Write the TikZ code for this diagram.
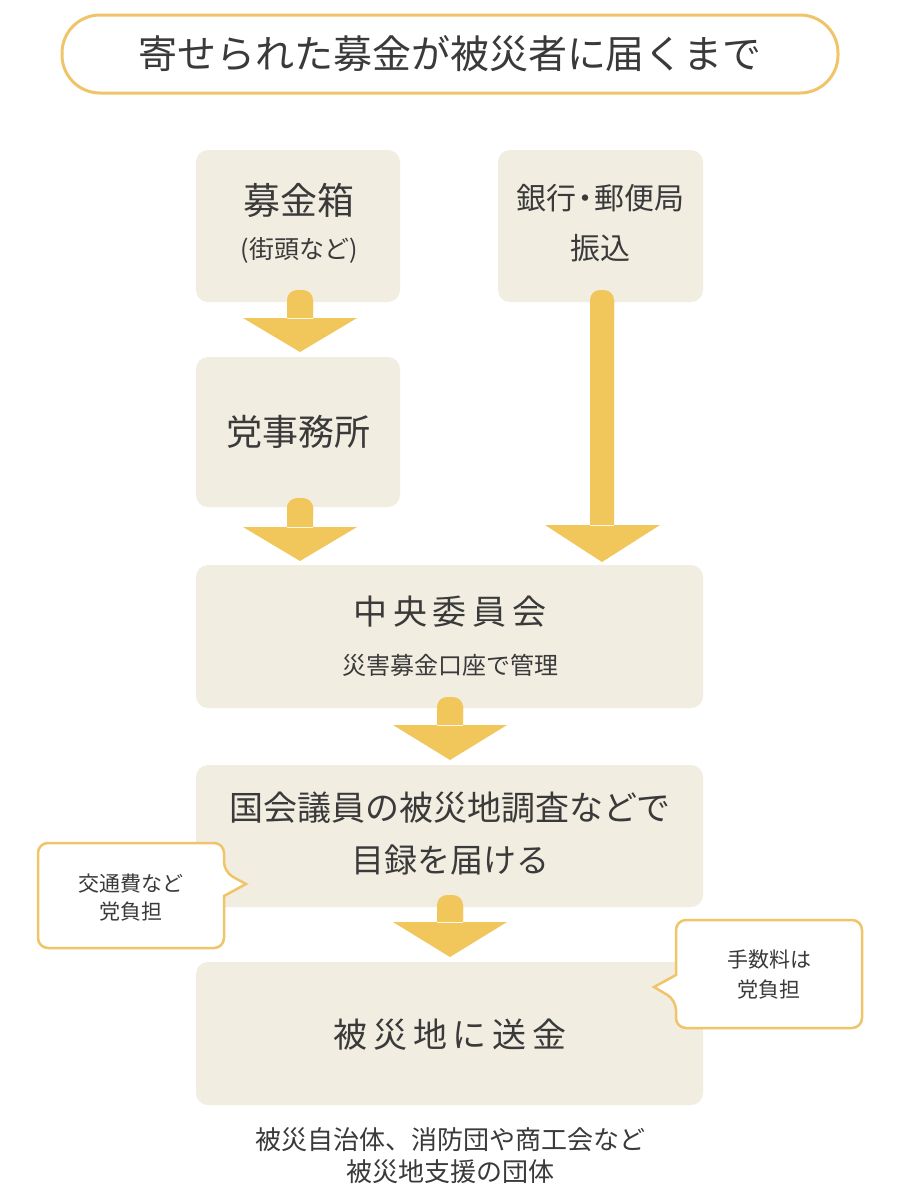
\documentclass[tikz,border=0pt]{standalone}
\usepackage{fontspec}
\setmainfont{Noto Sans CJK JP}
\begin{document}
\begin{tikzpicture}[x=1pt,y=-1pt,
  box/.style={fill=boxc,rounded corners=12pt},
  arr/.style={fill=arrc},
  t/.style={text=txt,inner sep=0pt,anchor=center}]
\definecolor{boxc}{HTML}{F2EDE1}
\definecolor{arrc}{HTML}{F1C75C}
\definecolor{orng}{HTML}{F0C468}
\definecolor{txt}{HTML}{3A3A3A}
\useasboundingbox (0,0) rectangle (900,1200);
\fill[white] (0,0) rectangle (900,1200);
% title
\draw[orng,line width=3pt,fill=white,rounded corners=38pt] (62,15) rectangle (838,93);
\node[t,font=\fontsize{39}{44}\selectfont] (title) at (450,54) {寄せられた募金が被災者に届くまで};
% boxes
\fill[box] (196,150) rectangle (400,302);
\fill[box] (498,150) rectangle (703,302);
\fill[box] (196,357) rectangle (400,507);
\fill[box] (196,565) rectangle (703,708);
\fill[box] (196,765) rectangle (703,907);
\fill[box] (196,962) rectangle (703,1105);
\node[t,font=\fontsize{37}{42}\selectfont] (n1) at (299,200) {募金箱};
\node[t,font=\fontsize{25}{30}\selectfont] (n1b) at (299,250) {(街頭など)};
\node[t,font=\fontsize{30}{34}\selectfont] (n2) at (600,198) {銀行\kern-6pt・\kern-6pt郵便局};
\node[t,font=\fontsize{30}{34}\selectfont] (n2b) at (600,248) {振込};
\node[t,font=\fontsize{36}{40}\selectfont] (n3) at (298,432) {党事務所};
\node[t,font=\fontsize{34}{40}\selectfont] (n4) at (450,612) {中\,央\,委\,員\,会};
\node[t,font=\fontsize{24}{28}\selectfont] (n4b) at (450,665) {災害募金口座で管理};
\node[t,font=\fontsize{34}{40}\selectfont] (n5) at (450,808) {国会議員の被災地調査などで};
\node[t,font=\fontsize{33}{38}\selectfont] (n5b) at (450,860) {目録を届ける};
\node[t,font=\fontsize{34}{40}\selectfont] (n6) at (450,1035) {被\,災\,地\,に\,送\,金};
% arrows
\fill[arr,rounded corners=10pt] (287,310) -- (287,290) -- (313,290) -- (313,310);
\fill[arr] (287,300) rectangle (313,319) (243,318) -- (357,318) -- (300,352) -- cycle;
\fill[arr,rounded corners=10pt] (287,515) -- (287,498) -- (313,498) -- (313,515);
\fill[arr] (287,505) rectangle (313,528) (243,527) -- (357,527) -- (300,561) -- cycle;
\fill[arr,rounded corners=10pt] (590,318) -- (590,290) -- (614,290) -- (614,318);
\fill[arr] (590,300) rectangle (614,526) (545,525) -- (660,525) -- (602,562) -- cycle;
\fill[arr,rounded corners=10pt] (437,720) -- (437,697) -- (463,697) -- (463,720);
\fill[arr] (437,705) rectangle (463,726) (393,725) -- (507,725) -- (450,760) -- cycle;
\fill[arr,rounded corners=10pt] (437,920) -- (437,895) -- (463,895) -- (463,920);
\fill[arr] (437,905) rectangle (463,923) (393,922) -- (507,922) -- (450,957) -- cycle;
% callouts
\draw[orng,line width=2.5pt,fill=white,rounded corners=10pt] (38,843) -- (224,843) -- (224,872) [sharp corners] -- (246,884) -- (224,896) [rounded corners=10pt] -- (224,948) -- (38,948) -- cycle;
\node[t,font=\fontsize{21}{24}\selectfont] (c1) at (131,884) {交通費など};
\node[t,font=\fontsize{21}{24}\selectfont] (c1b) at (131,912) {党負担};
\draw[orng,line width=2.5pt,fill=white,rounded corners=10pt] (862,920) -- (862,1028) -- (676,1028) -- (676,1000) [sharp corners] -- (654,987) -- (676,975) [rounded corners=10pt] -- (676,920) -- cycle;
\node[t,font=\fontsize{21}{24}\selectfont] (c2) at (769,960) {手数料は};
\node[t,font=\fontsize{21}{24}\selectfont] (c2b) at (769,990) {党負担};
% bottom
\node[t,font=\fontsize{26}{30}\selectfont] (bt1) at (450,1140) {被災自治体、消防団や商工会など};
\node[t,font=\fontsize{26}{30}\selectfont] (bt2) at (450,1172) {被災地支援の団体};
\end{tikzpicture}
\end{document}
